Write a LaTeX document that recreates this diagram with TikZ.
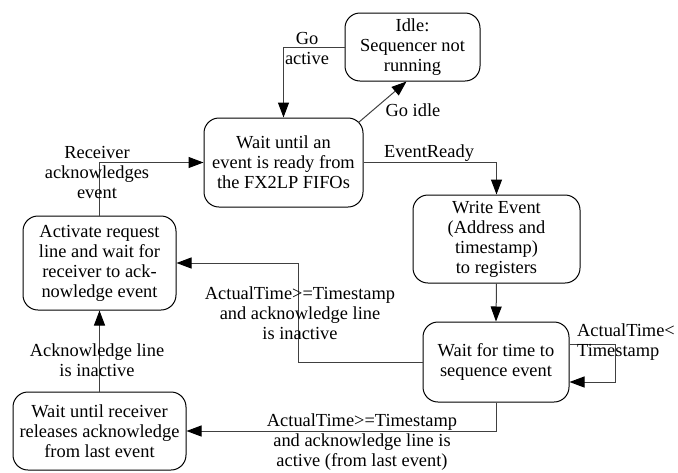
\documentclass[tikz,border=0pt]{standalone}
\usepackage{fontspec}
\setmainfont{Liberation Serif}
\usetikzlibrary{arrows.meta,calc}
\begin{document}
\begin{tikzpicture}[x=1pt,y=-1pt,
  state/.style={draw=black, rounded corners=15pt, line width=1pt, align=center, inner sep=0pt,
    font=\fontsize{18.4}{20}\selectfont},
  lbl/.style={align=center, inner sep=0pt, font=\fontsize{18.4}{20}\selectfont},
  conn/.style={draw=black!75, line width=1pt, -{Triangle[length=15pt,width=11pt,fill=black,color=black]}},
]
\useasboundingbox (0,0) rectangle (678,472);
% states
\node[state, minimum width=135pt, minimum height=68pt] (idle) at (412.5,47) {Idle:\\Sequencer not\\running};
\node[state, minimum width=159pt, minimum height=89pt] (wait) at (283.5,162.5) {Wait until an\\event is ready from\\the FX2LP FIFOs};
\node[state, minimum width=167pt, minimum height=88pt] (write) at (496.5,239) {Write Event\\(Address and\\timestamp)\\to registers};
\node[state, minimum width=146pt, minimum height=80pt] (seq) at (496,362) {Wait for time to\\sequence event};
\node[state, minimum width=153pt, minimum height=94pt] (act) at (99.5,263) {Activate request\\line and wait for\\receiver to ack-\\nowledge event};
\node[state, minimum width=173pt, minimum height=78pt] (rel) at (99.5,431) {Wait until receiver\\releases acknowledge\\from last event};
% connectors
\draw[conn] (idle.west) -| (wait.north);
\draw[conn] ($(wait.north east)+(-5,5)$) -- ($(idle.south)+(-6,0)$);
\draw[conn] (wait.east) -| (write.north);
\draw[conn] (write.south) -- (seq.north);
\coordinate (loopA) at ($(seq.east)+(0,-18)$);
\coordinate (loopB) at ($(seq.east)+(0,20)$);
\draw[conn] (loopA) -| ++(46,38) -- (loopB);
\draw[conn] (seq.west) -- ++(-124,0) |- (act.east);
\draw[conn] (seq.south) |- (rel.east);
\draw[conn] (rel.north) -- (act.south);
\draw[conn] (act.north) |- (wait.west);
% labels
\node[lbl] (lgoact) at (307,48) {Go\\active};
\node[lbl] (lgoidle) at (413,110) {Go idle};
\node[lbl] (lready) at (429,153) {EventReady};
\node[lbl] (lrecv) at (97,172) {Receiver\\acknowledges\\event};
\node[lbl] (linact) at (300,313) {ActualTime>=Timestamp\\and acknowledge line\\is inactive};
\node[lbl] (lackin) at (97,360) {Acknowledge line\\is inactive};
\node[lbl] (lact) at (362,442) {ActualTime>=Timestamp\\and acknowledge line is\\active (from last event)};
\node[lbl, anchor=west, align=left] (lloop) at (577,342.5) {ActualTime<\\Timestamp};
\end{tikzpicture}
\end{document}
